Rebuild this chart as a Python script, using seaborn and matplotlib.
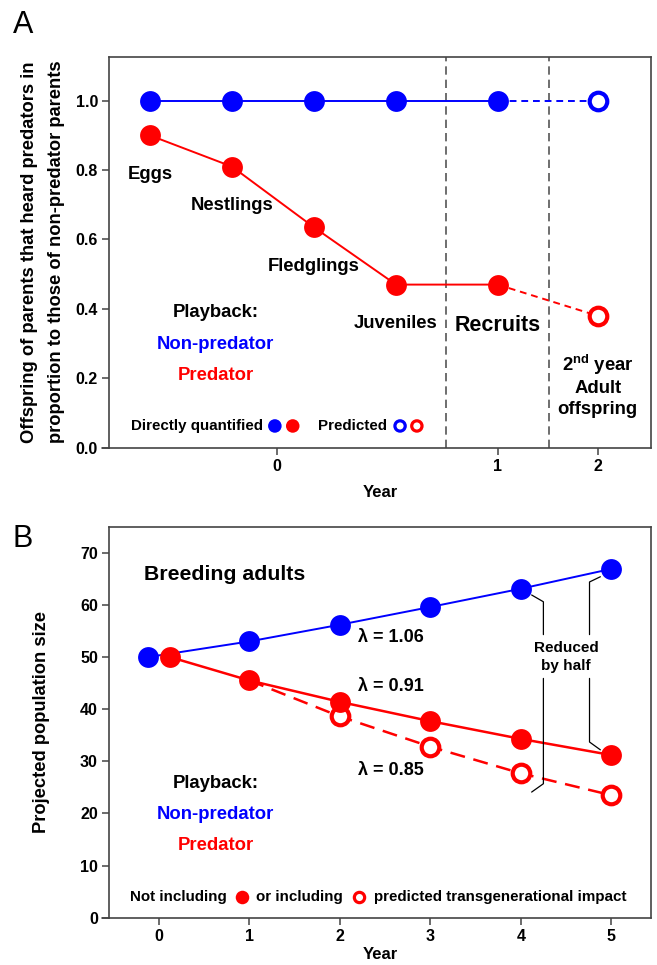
import numpy as np
import matplotlib
matplotlib.use("Agg")
import matplotlib.pyplot as plt
import seaborn as sns

# Panel A: offspring of predator-playback parents relative to non-predator parents
stages = ["Eggs", "Nestlings", "Fledglings", "Juveniles", "Recruits", "2nd year adult offspring"]
nonpred_rel = [1.0, 1.0, 1.0, 1.0, 1.0, 1.0]
pred_rel = [0.90, 0.81, 0.635, 0.47, 0.47, 0.38]
year_labels_a = ["0", "1", "2"]

# Panel B: projected number of breeding adults
years = [0, 1, 2, 3, 4, 5]
nonpred_pop = [50, 53.0, 56.2, 59.6, 63.1, 66.9]
pred_pop = [50, 45.5, 41.4, 37.7, 34.3, 31.2]
tg_years = [1, 2, 3, 4, 5]
pred_tg_pop = [45.5, 38.6, 32.8, 27.7, 23.5]
lambdas = ["1.06", "0.91", "0.85"]

# layout of the (non-linear) life-stage axis in panel A
stage_x = [0.5, 1.5, 2.5, 3.5, 4.74, 5.96]
year_x = [2.05, 4.74, 5.96]
divider_x = [4.11, 5.37]

BLUE = "#0000FF"
RED = "#FF0000"
SPINE = "#444444"

sns.set_theme(style="ticks")
plt.rcParams["font.family"] = ["Liberation Sans", "DejaVu Sans"]
plt.rcParams["font.weight"] = "bold"
plt.rcParams["axes.labelweight"] = "bold"
plt.rcParams["text.color"] = "black"
plt.rcParams["axes.labelcolor"] = "black"
plt.rcParams["mathtext.fontset"] = "custom"
plt.rcParams["mathtext.rm"] = "Liberation Sans:bold"
plt.rcParams["mathtext.bf"] = "Liberation Sans:bold"

fig = plt.figure(figsize=(6.57, 9.65), dpi=100)
axA = fig.add_axes([0.1659, 0.5361, 0.8250, 0.4052])
axB = fig.add_axes([0.1659, 0.0490, 0.8250, 0.4052])

FILLED = 225
OPEN = 160
TXT = 13.3
KEY = 10.9


def style_axes(ax):
    for sp in ax.spines.values():
        sp.set_color(SPINE)
        sp.set_linewidth(1.2)
    ax.tick_params(direction="out", length=5, width=1.1, color=SPINE,
                   labelsize=11.5, labelcolor="black", pad=3)
    for lab in ax.get_xticklabels() + ax.get_yticklabels():
        lab.set_fontweight("bold")
    # bottom spine sticks out a little to the left
    ax.plot([-0.012, 0], [0, 0], transform=ax.transAxes, color=SPINE,
            lw=1.2, clip_on=False)


# ---------------- Panel A ----------------
for xd in divider_x:
    axA.axvline(xd, color="#555555", lw=1.2, dashes=(5, 3), zorder=1)

sns.lineplot(x=stage_x[:5], y=nonpred_rel[:5], color=BLUE, lw=1.4, sort=False, ax=axA)
sns.lineplot(x=stage_x[4:], y=nonpred_rel[4:], color=BLUE, lw=1.4, sort=False,
             linestyle=(0, (3.5, 2.5)), ax=axA)
sns.lineplot(x=stage_x[:5], y=pred_rel[:5], color=RED, lw=1.4, sort=False, ax=axA)
sns.lineplot(x=stage_x[4:], y=pred_rel[4:], color=RED, lw=1.4, sort=False,
             linestyle=(0, (3.5, 2.5)), ax=axA)

sns.scatterplot(x=stage_x[:5], y=nonpred_rel[:5], color=BLUE, s=FILLED,
                linewidth=0, zorder=4, ax=axA)
sns.scatterplot(x=stage_x[:5], y=pred_rel[:5], color=RED, s=FILLED,
                linewidth=0, zorder=4, ax=axA)
sns.scatterplot(x=stage_x[5:], y=nonpred_rel[5:], facecolor="white", edgecolor=BLUE,
                s=OPEN, linewidth=3, zorder=4, ax=axA)
sns.scatterplot(x=stage_x[5:], y=pred_rel[5:], facecolor="white", edgecolor=RED,
                s=OPEN, linewidth=3, zorder=4, ax=axA)

for i in range(4):
    axA.text(stage_x[i], pred_rel[i] - 0.113, stages[i], ha="center", va="center",
             fontsize=TXT, fontweight="bold")
axA.text(stage_x[4], pred_rel[4] - 0.117, stages[4], ha="center", va="center",
         fontsize=15.5, fontweight="bold")
axA.text(stage_x[5], 0.18, "2$^{\\mathrm{nd}}$ year\nAdult\noffspring", ha="center",
         va="center", fontsize=TXT, fontweight="bold", linespacing=1.25)

axA.set_xlim(0, 6.61)
axA.set_ylim(0, 1.127)
axA.set_xticks(year_x, year_labels_a)
axA.set_yticks(np.arange(0, 1.01, 0.2))
axA.set_yticklabels([f"{v:.1f}" for v in np.arange(0, 1.01, 0.2)])
axA.set_xlabel("Year", fontsize=12, fontweight="bold", labelpad=8)
axA.set_ylabel("Offspring of parents that heard predators in\n"
               "proportion to those of non-predator parents",
               fontsize=13.2, fontweight="bold", linespacing=1.75)
axA.yaxis.set_label_coords(-0.082, 0.5)
style_axes(axA)


def playback_key(ax):
    ax.text(0.197, 0.3445, "Playback:", transform=ax.transAxes, ha="center",
            va="center", fontsize=TXT, fontweight="bold")
    ax.text(0.197, 0.263, "Non-predator", transform=ax.transAxes, ha="center",
            va="center", fontsize=TXT, fontweight="bold", color=BLUE)
    ax.text(0.197, 0.185, "Predator", transform=ax.transAxes, ha="center",
            va="center", fontsize=TXT, fontweight="bold", color=RED)


playback_key(axA)

# key row of panel A
ky = 0.0555
axA.text(0.0406, ky, "Directly quantified", transform=axA.transAxes, ha="left",
         va="center", fontsize=KEY, fontweight="bold")
axA.scatter([0.306, 0.339], [ky, ky], transform=axA.transAxes, s=95,
            c=[BLUE, RED], linewidths=0, zorder=5, clip_on=False)
axA.text(0.386, ky, "Predicted", transform=axA.transAxes, ha="left",
         va="center", fontsize=KEY, fontweight="bold")
axA.scatter([0.537, 0.568], [ky, ky], transform=axA.transAxes, s=55,
            facecolors="white", edgecolors=[BLUE, RED], linewidths=2.3,
            zorder=5, clip_on=False)

fig.text(0.035, 0.974, "A", fontsize=22, fontweight="normal", ha="center", va="center")

# ---------------- Panel B ----------------
offset = 0.12
x_np = np.array(years, dtype=float)
x_np[0] -= offset
x_p = np.array(years, dtype=float)
x_p[0] += offset

sns.lineplot(x=x_np, y=nonpred_pop, color=BLUE, lw=1.4, sort=False, ax=axB)
sns.lineplot(x=x_p, y=pred_pop, color=RED, lw=1.8, sort=False, ax=axB)
sns.lineplot(x=tg_years, y=pred_tg_pop, color=RED, lw=1.8, sort=False,
             linestyle=(0, (6, 3.5)), ax=axB)

sns.scatterplot(x=tg_years[1:], y=pred_tg_pop[1:], facecolor="white", edgecolor=RED,
                s=OPEN, linewidth=3, zorder=4, ax=axB)
sns.scatterplot(x=x_np, y=nonpred_pop, color=BLUE, s=FILLED, linewidth=0,
                zorder=5, ax=axB)
sns.scatterplot(x=x_p, y=pred_pop, color=RED, s=FILLED, linewidth=0,
                zorder=5, ax=axB)

axB.text(0.0646, 0.879, "Breeding adults", transform=axB.transAxes, ha="left",
         va="center", fontsize=15.3, fontweight="bold")
lam_y = [nonpred_pop[2] - 2.5, pred_pop[2] + 2.9, pred_tg_pop[2] - 4.6]
for lab, yy in zip(lambdas, lam_y):
    axB.text(2.2, yy, f"λ = {lab}", ha="left", va="center", fontsize=13,
             fontweight="bold")

# brackets marking the halving between the two treatments
i4, i5 = 4, 5
gap_top, gap_bot = 54.3, 45.9
axB.plot([years[i4] + 0.12, years[i4] + 0.25, years[i4] + 0.25],
         [nonpred_pop[i4] - 1.2, nonpred_pop[i4] - 2.5, gap_top], color="black", lw=0.9)
axB.plot([years[i4] + 0.25, years[i4] + 0.25, years[i4] + 0.12],
         [gap_bot, pred_tg_pop[i4] + 2.2, pred_tg_pop[i4] + 0.6], color="black", lw=0.9)
axB.plot([years[i5] - 0.12, years[i5] - 0.24, years[i5] - 0.24],
         [nonpred_pop[i5] - 1.5, nonpred_pop[i5] - 2.5, gap_top], color="black", lw=0.9)
axB.plot([years[i5] - 0.24, years[i5] - 0.24, years[i5] - 0.12],
         [gap_bot, pred_pop[i5] + 2.5, pred_pop[i5] + 1.0], color="black", lw=0.9)
axB.text(4.5, 50.0, "Reduced\nby half", ha="center", va="center", fontsize=11,
         fontweight="bold", linespacing=1.3)

playback_key(axB)

ky = 0.0537
axB.text(0.0387, ky, "Not including", transform=axB.transAxes, ha="left",
         va="center", fontsize=KEY, fontweight="bold")
axB.scatter([0.245], [ky], transform=axB.transAxes, s=95, c=[RED],
            linewidths=0, zorder=5, clip_on=False)
axB.text(0.271, ky, "or including", transform=axB.transAxes, ha="left",
         va="center", fontsize=KEY, fontweight="bold")
axB.scatter([0.4605], [ky], transform=axB.transAxes, s=55, facecolors="white",
            edgecolors=[RED], linewidths=2.3, zorder=5, clip_on=False)
axB.text(0.488, ky, "predicted transgenerational impact", transform=axB.transAxes,
         ha="left", va="center", fontsize=KEY, fontweight="bold")

axB.set_xlim(-0.553, 5.44)
axB.set_ylim(0, 75)
axB.set_xticks(years)
axB.set_yticks(np.arange(0, 71, 10))
axB.set_xlabel("Year", fontsize=12, fontweight="bold", labelpad=2)
axB.set_ylabel("Projected population size", fontsize=13.2, fontweight="bold")
axB.yaxis.set_label_coords(-0.108, 0.5)
style_axes(axB)

fig.text(0.035, 0.441, "B", fontsize=22, fontweight="normal", ha="center", va="center")

fig.savefig("out.png", dpi=100)
